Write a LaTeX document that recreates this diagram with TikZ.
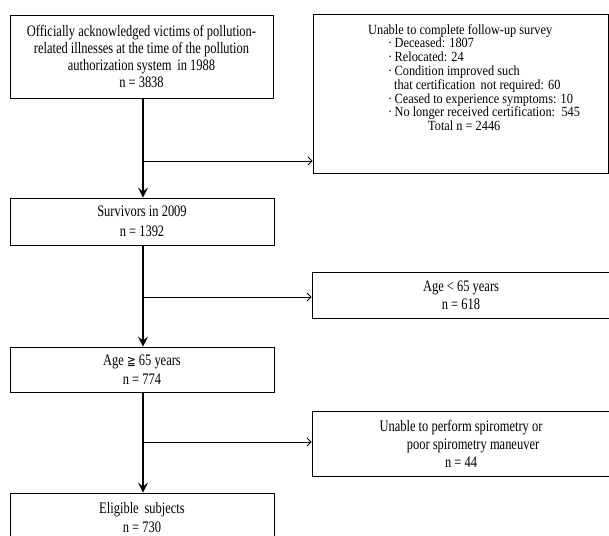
\documentclass[tikz,border=0pt]{standalone}
\usepackage{fontspec}
\setmainfont{Liberation Serif}[FakeStretch=0.78]
\newfontfamily\listfnt{Liberation Serif}[FakeStretch=0.88]
\newfontfamily\symfnt{DejaVu Sans}[FakeStretch=0.8]
\newcommand\tightlist{\lineskiplimit=-20pt\relax}
\usetikzlibrary{arrows.meta}
\begin{document}
\begin{tikzpicture}[x=1pt,y=-1pt,
  box/.style={draw, line width=0.9pt, inner sep=0pt, align=center,
    font=\fontsize{16}{17}\selectfont},
  mainarrow/.style={line width=2.6pt, -{Stealth[length=10pt,width=10pt,inset=4pt]}},
  sidearrow/.style={line width=0.9pt, -{Straight Barb[length=4pt,width=8pt]}}]
\useasboundingbox (0,0) rectangle (609,535);
% left column
\node[box, minimum width=263pt, minimum height=83pt] (b1) at (141.5,56.5)
  {Officially acknowledged victims of pollution-\\related illnesses at the time of the pollution\\authorization system\, in 1988\\n = 3838};
\node[box, minimum width=264pt, minimum height=47pt] (b3) at (142,221.5)
  {Survivors in 2009\\[3pt]n = 1392};
\node[box, minimum width=264pt, minimum height=45pt] (b5) at (142,369.5)
  {Age {\symfnt\fontsize{13}{17}\selectfont ≧} 65 years\\[2pt]n = 774};
\node[box, minimum width=264pt, minimum height=49pt] (b7) at (142,517.5)
  {Eligible\, subjects\\[2pt]n = 730};
% right column
\node[box, minimum width=295pt, minimum height=159pt] (b2) at (460.5,93.5) {};
\node[anchor=north west, inner sep=0pt, align=left,
  font=\listfnt\fontsize{14}{13.8}\selectfont\tightlist] (b2t) at (388,24)
  {\hspace*{-20pt}Unable to complete follow-up survey\\
   ·\,Deceased: 1807\\
   ·\,Relocated: 24\\
   ·\,Condition improved such\\
   \hspace*{6pt}that certification\, not required: 60\\
   ·\,Ceased to experience symptoms: 10\\
   ·\,No longer received certification:\, 545\\
   \hspace*{40pt}Total n = 2446};
\node[box, minimum width=298pt, minimum height=46pt] (b4) at (461,295)
  {Age < 65 years\\[1pt]n = 618};
\node[box, minimum width=298pt, minimum height=65pt] (b6) at (461,443.5)
  {Unable to perform spirometry or\\[1pt]\hspace*{24pt}poor spirometry maneuver\\[1pt]n = 44};
% junctions
\coordinate (j1) at (143,161);
\coordinate (j2) at (143,297);
\coordinate (j3) at (143,442);
% connectors
\draw[mainarrow] (b1.south -| j1) -- (b3.north -| j1);
\draw[mainarrow] (b3.south -| j2) -- (b5.north -| j2);
\draw[mainarrow] (b5.south -| j3) -- (b7.north -| j3);
\draw[sidearrow] (j1) -- (b2.west |- j1);
\draw[sidearrow] (j2) -- (b4.west |- j2);
\draw[sidearrow] (j3) -- (b6.west |- j3);
\end{tikzpicture}
\end{document}
